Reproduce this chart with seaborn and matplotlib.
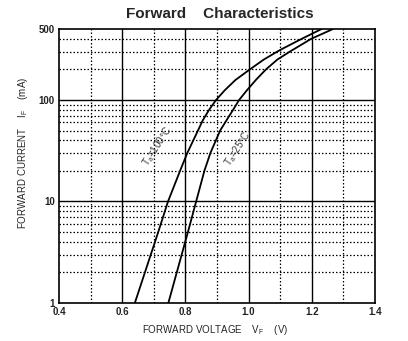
import matplotlib
matplotlib.use("Agg")
import matplotlib.pyplot as plt
import pandas as pd
import seaborn as sns

# Forward voltage (V) against forward current (mA) at two ambient temperatures
current_25c = [1, 5, 10, 20, 30, 50, 63, 80, 100, 125, 160, 200, 250, 300, 400, 500]
vf_25c = [0.746, 0.808, 0.834, 0.860, 0.879, 0.910, 0.930, 0.951, 0.970,
          0.995, 1.025, 1.055, 1.091, 1.131, 1.198, 1.267]
current_100c = [1, 5, 10, 20, 30, 63, 80, 100, 125, 157, 200, 250, 310, 400, 500]
vf_100c = [0.640, 0.714, 0.745, 0.783, 0.806, 0.855, 0.875, 0.897, 0.925,
           0.958, 1.004, 1.048, 1.099, 1.168, 1.231]

x_ticks = [0.4, 0.6, 0.8, 1.0, 1.2, 1.4]
x_tick_labels = ["0.4", "0.6", "0.8", "1.0", "1.2", "1.4"]
y_ticks = [1, 10, 100, 500]
y_tick_labels = ["1", "10", "100", "500"]

df = pd.concat([
    pd.DataFrame({"vf": vf_25c, "if": current_25c, "temp": "25"}),
    pd.DataFrame({"vf": vf_100c, "if": current_100c, "temp": "100"}),
])

sns.set_style("white")
plt.rcParams["font.family"] = ["Liberation Sans", "DejaVu Sans"]
plt.rcParams["mathtext.fontset"] = "custom"
plt.rcParams["mathtext.rm"] = "Liberation Sans"

fig = plt.figure(figsize=(4.08, 3.41), dpi=100)
ax = fig.add_axes([59 / 408, 1 - 303 / 341, (375 - 59) / 408, (303 - 29) / 341])

ax.set_yscale("log")
ax.set_xlim(0.4, 1.4)
ax.set_ylim(1, 500)

# grid: solid at major divisions, dotted at intermediate ones
dot = (0, (1.2, 1.6))
for v in [0.6, 0.8, 1.0, 1.2]:
    ax.axvline(v, color="black", lw=1.0, zorder=1)
for v in [0.5, 0.7, 0.9, 1.1, 1.3]:
    ax.axvline(v, color="black", lw=0.9, ls=dot, zorder=1)
for h in [10, 100]:
    ax.axhline(h, color="black", lw=1.0, zorder=1)
for decade in [1, 10]:
    for m in range(2, 10):
        ax.axhline(m * decade, color="black", lw=0.9, ls=dot, zorder=1)
for h in [200, 300, 400]:
    ax.axhline(h, color="black", lw=0.9, ls=dot, zorder=1)

sns.lineplot(data=df, x="vf", y="if", units="temp", estimator=None,
             color="black", lw=1.3, sort=False, ax=ax, zorder=3)

ax.set_xticks(x_ticks)
ax.set_xticklabels(x_tick_labels)
ax.set_yticks(y_ticks)
ax.set_yticklabels(y_tick_labels)
ax.minorticks_off()
ax.tick_params(length=0, labelsize=7, pad=3)
for lab in ax.get_xticklabels() + ax.get_yticklabels():
    lab.set_fontweight("bold")
    lab.set_color("#222222")
ax.set_xlabel("")
ax.set_ylabel("")
for s in ax.spines.values():
    s.set_visible(True)
    s.set_color("black")
    s.set_linewidth(1.2)

fig.text(220 / 408, 1 - 14 / 341, "Forward    Characteristics",
         ha="center", va="center", fontsize=11, fontweight="bold")
fig.text(215 / 408, 1 - 330 / 341,
         r"FORWARD VOLTAGE    V$_{\mathregular{F}}$    (V)",
         ha="center", va="center", fontsize=7)
fig.text(23 / 408, 1 - 153 / 341,
         r"FORWARD CURRENT    I$_{\mathregular{F}}$    (mA)",
         ha="center", va="center", fontsize=7, rotation=90)

ax.text(0.712, 35, r"T$_{\mathregular{a}}$=100°C", rotation=57,
        ha="center", va="center", fontsize=7, color="#3a3a3a", zorder=4)
ax.text(0.965, 33, r"T$_{\mathregular{a}}$=25°C", rotation=57,
        ha="center", va="center", fontsize=7, color="#3a3a3a", zorder=4)

fig.savefig("out.png", dpi=100, facecolor="white")
